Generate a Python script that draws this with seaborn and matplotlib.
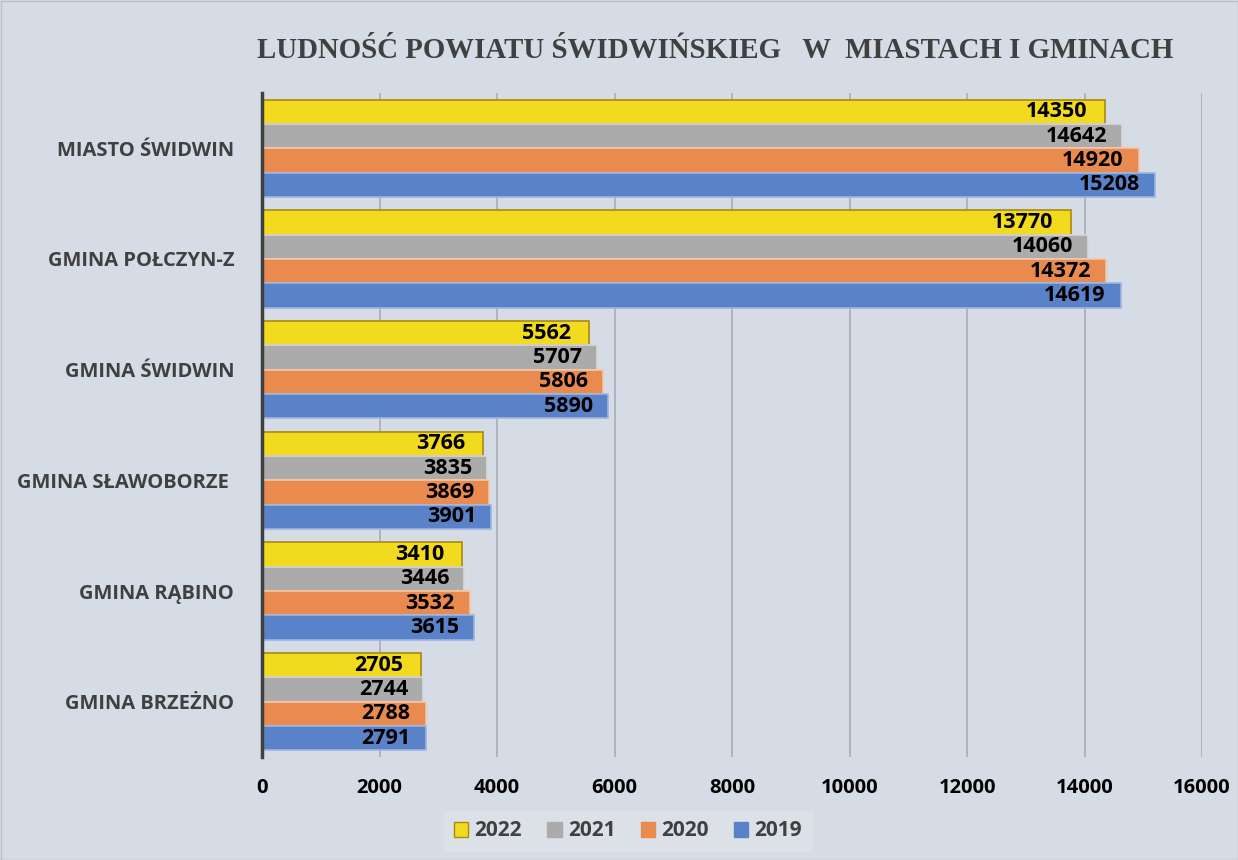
import matplotlib
matplotlib.use("Agg")
import matplotlib.pyplot as plt
import seaborn as sns
import pandas as pd
from matplotlib.patches import Patch

categories = ["MIASTO ŚWIDWIN", "GMINA POŁCZYN-Z", "GMINA ŚWIDWIN",
              "GMINA SŁAWOBORZE ", "GMINA RĄBINO", "GMINA BRZEŻNO"]
years = ["2022", "2021", "2020", "2019"]
v2022 = [14350, 13770, 5562, 3766, 3410, 2705]
v2021 = [14642, 14060, 5707, 3835, 3446, 2744]
v2020 = [14920, 14372, 5806, 3869, 3532, 2788]
v2019 = [15208, 14619, 5890, 3901, 3615, 2791]
xticks = [0, 2000, 4000, 6000, 8000, 10000, 12000, 14000, 16000]

title = "LUDNOŚĆ POWIATU ŚWIDWIŃSKIEG   W  MIASTACH I GMINACH"

colors = {"2022": "#F2DA1E", "2021": "#ABABAB", "2020": "#E98A4E", "2019": "#5A82C8"}
edges = {"2022": "#A88A10", "2021": "#D8D8D8", "2020": "#F2C7A8", "2019": "#9DB5E0"}

rows = []
for yr, vals in zip(years, [v2022, v2021, v2020, v2019]):
    for c, v in zip(categories, vals):
        rows.append({"cat": c, "year": yr, "value": v})
df = pd.DataFrame(rows)

sns.set_theme(style="white")
plt.rcParams['font.family'] = ['Open Sans', 'DejaVu Sans']
bg = "#D6DCE5"
fig = plt.figure(figsize=(12.38, 8.6), dpi=100, facecolor=bg)
ax = fig.add_axes([262/1238, 1-757/860, 940/1238, (757-93)/860])
ax.set_facecolor(bg)

sns.barplot(data=df, y="cat", x="value", hue="year", hue_order=years,
            order=categories, palette=colors, orient="h", width=0.88,
            gap=0, ax=ax, legend=False, zorder=3, saturation=1)

for cont, yr in zip(ax.containers, years):
    for p in cont:
        p.set_edgecolor(edges[yr])
        p.set_linewidth(1.2)
    labs = ax.bar_label(cont, fmt="%d", label_type="edge",
                        padding=-13 if yr == "2022" else -11,
                        fontsize=15.5, fontweight="bold", color="black", zorder=5)
    for l in labs:
        l.set_ha("right")

ax.set_xlim(0, 16000)
ax.set_xticks(xticks)
ax.set_xticklabels([str(t) for t in xticks], fontsize=14.5, fontweight="bold", color="black")
ax.tick_params(axis="x", length=0, pad=15)
ax.tick_params(axis="y", length=0, pad=20)
for lab in ax.get_yticklabels():
    lab.set_fontsize(14.5)
    lab.set_fontweight("bold")
    lab.set_color("#404040")
ax.set_xlabel("")
ax.set_ylabel("")
ax.grid(axis="x", color="#A8ADB5", linewidth=1.2, zorder=0)
ax.set_axisbelow(True)
for s in ["top", "right", "bottom"]:
    ax.spines[s].set_visible(False)
ax.spines["left"].set_color("#404040")
ax.spines["left"].set_linewidth(2.5)
ax.spines["left"].set_zorder(6)

fig.text(715/1238, 1-50/860, title, ha="center", va="center",
         fontsize=20.8, fontweight="bold", color="#404040", family="Liberation Serif")

handles = [Patch(facecolor=colors[y], edgecolor=edges[y] if y == "2022" else colors[y]) for y in years]
leg = fig.legend(handles, years, loc="center", bbox_to_anchor=(628/1238, 1-831/860),
                 ncol=4, frameon=True, fontsize=15, handlelength=0.7, handleheight=0.7,
                 columnspacing=1.2, handletextpad=0.3, borderpad=0.45)
leg.get_frame().set_facecolor("#DEE3EA")
leg.get_frame().set_edgecolor("#DEE3EA")
leg.get_frame().set_boxstyle("square", pad=0)
for t in leg.get_texts():
    t.set_fontweight("bold")
    t.set_color("#404040")

fig.patches.append(plt.Rectangle((0.5/1238, 0.5/860), 1-1/1238, 1-1/860, transform=fig.transFigure,
                                 fill=False, edgecolor="#BFBFBF", linewidth=1))
fig.savefig("out.png", dpi=100, facecolor=bg)
